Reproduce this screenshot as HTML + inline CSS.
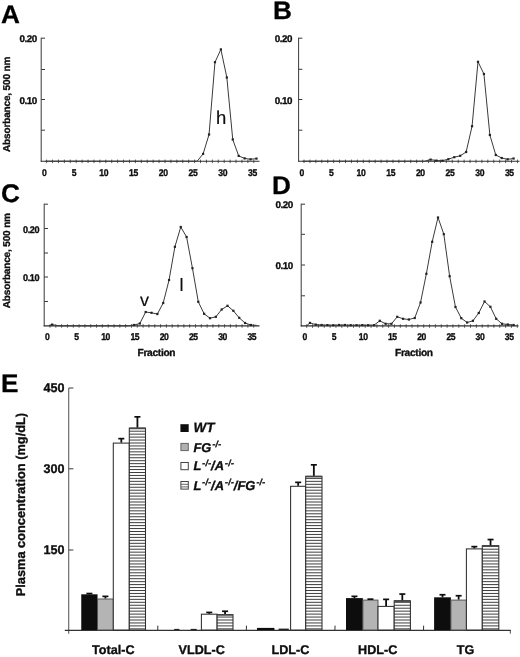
<!DOCTYPE html>
<html><head><meta charset="utf-8"><title>Figure</title>
<style>
html,body{margin:0;padding:0;background:#fff;}
svg{display:block;}
text{font-family:"Liberation Sans",sans-serif;text-rendering:geometricPrecision;}
</style></head><body>
<svg width="520" height="657" viewBox="0 0 520 657">
<defs><filter id="soft" x="0" y="0" width="520" height="657" filterUnits="userSpaceOnUse"><feGaussianBlur stdDeviation="0.35"/></filter></defs>
<rect x="0" y="0" width="520" height="657" fill="#fff"/>
<g filter="url(#soft)">
<line x1="41.20" y1="37.70" x2="41.20" y2="161.70" stroke="#3a3a3a" stroke-width="1" />
<line x1="41.20" y1="38.20" x2="45.00" y2="38.20" stroke="#3a3a3a" stroke-width="1" />
<line x1="41.20" y1="69.50" x2="45.00" y2="69.50" stroke="#3a3a3a" stroke-width="1" />
<line x1="41.20" y1="99.50" x2="45.00" y2="99.50" stroke="#3a3a3a" stroke-width="1" />
<line x1="41.20" y1="130.20" x2="45.00" y2="130.20" stroke="#3a3a3a" stroke-width="1" />
<text transform="translate(36.70,42.40) scale(1.0,1)" font-size="9.8" font-weight="bold" font-style="normal" text-anchor="end" fill="#0a0a0a" stroke="#0a0a0a" stroke-width="0.3" letter-spacing="-0.45">0.20</text>
<text transform="translate(36.70,103.50) scale(1.0,1)" font-size="9.8" font-weight="bold" font-style="normal" text-anchor="end" fill="#0a0a0a" stroke="#0a0a0a" stroke-width="0.3" letter-spacing="-0.45">0.10</text>
<line x1="40.70" y1="161.20" x2="259.50" y2="161.20" stroke="#2c2c2c" stroke-width="1.15" />
<line x1="46.60" y1="159.60" x2="46.60" y2="163.10" stroke="#333" stroke-width="0.8" />
<line x1="52.52" y1="159.60" x2="52.52" y2="163.10" stroke="#333" stroke-width="0.8" />
<line x1="58.44" y1="159.60" x2="58.44" y2="163.10" stroke="#333" stroke-width="0.8" />
<line x1="64.36" y1="159.60" x2="64.36" y2="163.10" stroke="#333" stroke-width="0.8" />
<line x1="70.28" y1="159.60" x2="70.28" y2="163.10" stroke="#333" stroke-width="0.8" />
<line x1="76.20" y1="159.60" x2="76.20" y2="163.10" stroke="#333" stroke-width="0.8" />
<line x1="82.12" y1="159.60" x2="82.12" y2="163.10" stroke="#333" stroke-width="0.8" />
<line x1="88.04" y1="159.60" x2="88.04" y2="163.10" stroke="#333" stroke-width="0.8" />
<line x1="93.96" y1="159.60" x2="93.96" y2="163.10" stroke="#333" stroke-width="0.8" />
<line x1="99.88" y1="159.60" x2="99.88" y2="163.10" stroke="#333" stroke-width="0.8" />
<line x1="105.80" y1="159.60" x2="105.80" y2="163.10" stroke="#333" stroke-width="0.8" />
<line x1="111.72" y1="159.60" x2="111.72" y2="163.10" stroke="#333" stroke-width="0.8" />
<line x1="117.64" y1="159.60" x2="117.64" y2="163.10" stroke="#333" stroke-width="0.8" />
<line x1="123.56" y1="159.60" x2="123.56" y2="163.10" stroke="#333" stroke-width="0.8" />
<line x1="129.48" y1="159.60" x2="129.48" y2="163.10" stroke="#333" stroke-width="0.8" />
<line x1="135.40" y1="159.60" x2="135.40" y2="163.10" stroke="#333" stroke-width="0.8" />
<line x1="141.32" y1="159.60" x2="141.32" y2="163.10" stroke="#333" stroke-width="0.8" />
<line x1="147.24" y1="159.60" x2="147.24" y2="163.10" stroke="#333" stroke-width="0.8" />
<line x1="153.16" y1="159.60" x2="153.16" y2="163.10" stroke="#333" stroke-width="0.8" />
<line x1="159.08" y1="159.60" x2="159.08" y2="163.10" stroke="#333" stroke-width="0.8" />
<line x1="165.00" y1="159.60" x2="165.00" y2="163.10" stroke="#333" stroke-width="0.8" />
<line x1="170.92" y1="159.60" x2="170.92" y2="163.10" stroke="#333" stroke-width="0.8" />
<line x1="176.84" y1="159.60" x2="176.84" y2="163.10" stroke="#333" stroke-width="0.8" />
<line x1="182.76" y1="159.60" x2="182.76" y2="163.10" stroke="#333" stroke-width="0.8" />
<line x1="188.68" y1="159.60" x2="188.68" y2="163.10" stroke="#333" stroke-width="0.8" />
<line x1="194.60" y1="159.60" x2="194.60" y2="163.10" stroke="#333" stroke-width="0.8" />
<line x1="200.52" y1="159.60" x2="200.52" y2="163.10" stroke="#333" stroke-width="0.8" />
<line x1="206.44" y1="159.60" x2="206.44" y2="163.10" stroke="#333" stroke-width="0.8" />
<line x1="212.36" y1="159.60" x2="212.36" y2="163.10" stroke="#333" stroke-width="0.8" />
<line x1="218.28" y1="159.60" x2="218.28" y2="163.10" stroke="#333" stroke-width="0.8" />
<line x1="224.20" y1="159.60" x2="224.20" y2="163.10" stroke="#333" stroke-width="0.8" />
<line x1="230.12" y1="159.60" x2="230.12" y2="163.10" stroke="#333" stroke-width="0.8" />
<line x1="236.04" y1="159.60" x2="236.04" y2="163.10" stroke="#333" stroke-width="0.8" />
<line x1="241.96" y1="159.60" x2="241.96" y2="163.10" stroke="#333" stroke-width="0.8" />
<line x1="247.88" y1="159.60" x2="247.88" y2="163.10" stroke="#333" stroke-width="0.8" />
<line x1="253.80" y1="159.60" x2="253.80" y2="163.10" stroke="#333" stroke-width="0.8" />
<text transform="translate(44.20,175.70) scale(0.88,1)" font-size="9.8" font-weight="bold" font-style="normal" text-anchor="middle" fill="#0a0a0a" stroke="#0a0a0a" stroke-width="0.3" letter-spacing="-0.45">0</text>
<text transform="translate(73.95,175.70) scale(0.88,1)" font-size="9.8" font-weight="bold" font-style="normal" text-anchor="middle" fill="#0a0a0a" stroke="#0a0a0a" stroke-width="0.3" letter-spacing="-0.45">5</text>
<text transform="translate(103.70,175.70) scale(0.88,1)" font-size="9.8" font-weight="bold" font-style="normal" text-anchor="middle" fill="#0a0a0a" stroke="#0a0a0a" stroke-width="0.3" letter-spacing="-0.45">10</text>
<text transform="translate(133.45,175.70) scale(0.88,1)" font-size="9.8" font-weight="bold" font-style="normal" text-anchor="middle" fill="#0a0a0a" stroke="#0a0a0a" stroke-width="0.3" letter-spacing="-0.45">15</text>
<text transform="translate(163.20,175.70) scale(0.88,1)" font-size="9.8" font-weight="bold" font-style="normal" text-anchor="middle" fill="#0a0a0a" stroke="#0a0a0a" stroke-width="0.3" letter-spacing="-0.45">20</text>
<text transform="translate(192.95,175.70) scale(0.88,1)" font-size="9.8" font-weight="bold" font-style="normal" text-anchor="middle" fill="#0a0a0a" stroke="#0a0a0a" stroke-width="0.3" letter-spacing="-0.45">25</text>
<text transform="translate(222.70,175.70) scale(0.88,1)" font-size="9.8" font-weight="bold" font-style="normal" text-anchor="middle" fill="#0a0a0a" stroke="#0a0a0a" stroke-width="0.3" letter-spacing="-0.45">30</text>
<text transform="translate(252.45,175.70) scale(0.88,1)" font-size="9.8" font-weight="bold" font-style="normal" text-anchor="middle" fill="#0a0a0a" stroke="#0a0a0a" stroke-width="0.3" letter-spacing="-0.45">35</text>
<polyline fill="none" stroke="#3a3a3a" stroke-width="1" stroke-linejoin="round" points="45.37,161.20 48.93,161.20 54.86,161.20 60.79,161.20 66.72,161.20 72.65,161.20 78.58,161.20 84.51,161.20 90.44,161.20 96.37,161.20 102.30,161.20 108.23,161.20 114.16,161.20 120.09,161.20 126.02,161.20 131.95,161.20 137.88,161.20 143.81,161.20 149.74,161.20 155.67,161.20 161.60,161.20 167.53,161.20 173.46,161.20 179.39,161.20 185.32,161.20 191.25,161.20 197.18,161.20 203.11,153.90 209.04,134.50 214.97,62.20 220.90,49.40 226.83,77.50 232.76,139.50 238.69,155.90 244.62,158.40 250.55,159.30 256.48,158.60"/>
<rect x="202.01" y="152.80" width="2.2" height="2.2" fill="#222"/>
<rect x="207.94" y="133.40" width="2.2" height="2.2" fill="#222"/>
<rect x="213.87" y="61.10" width="2.2" height="2.2" fill="#222"/>
<rect x="219.80" y="48.30" width="2.2" height="2.2" fill="#222"/>
<rect x="225.73" y="76.40" width="2.2" height="2.2" fill="#222"/>
<rect x="231.66" y="138.40" width="2.2" height="2.2" fill="#222"/>
<rect x="237.59" y="154.80" width="2.2" height="2.2" fill="#222"/>
<rect x="243.52" y="157.30" width="2.2" height="2.2" fill="#222"/>
<rect x="249.45" y="158.20" width="2.2" height="2.2" fill="#222"/>
<rect x="255.38" y="157.50" width="2.2" height="2.2" fill="#222"/>
<line x1="298.60" y1="37.70" x2="298.60" y2="161.70" stroke="#3a3a3a" stroke-width="1" />
<line x1="298.60" y1="38.20" x2="302.40" y2="38.20" stroke="#3a3a3a" stroke-width="1" />
<line x1="298.60" y1="69.30" x2="302.40" y2="69.30" stroke="#3a3a3a" stroke-width="1" />
<line x1="298.60" y1="99.50" x2="302.40" y2="99.50" stroke="#3a3a3a" stroke-width="1" />
<line x1="298.60" y1="130.20" x2="302.40" y2="130.20" stroke="#3a3a3a" stroke-width="1" />
<text transform="translate(292.10,42.40) scale(1.0,1)" font-size="9.8" font-weight="bold" font-style="normal" text-anchor="end" fill="#0a0a0a" stroke="#0a0a0a" stroke-width="0.3" letter-spacing="-0.45">0.20</text>
<text transform="translate(292.10,103.70) scale(1.0,1)" font-size="9.8" font-weight="bold" font-style="normal" text-anchor="end" fill="#0a0a0a" stroke="#0a0a0a" stroke-width="0.3" letter-spacing="-0.45">0.10</text>
<line x1="298.10" y1="161.20" x2="519.50" y2="161.20" stroke="#2c2c2c" stroke-width="1.15" />
<line x1="304.00" y1="159.60" x2="304.00" y2="163.10" stroke="#333" stroke-width="0.8" />
<line x1="309.93" y1="159.60" x2="309.93" y2="163.10" stroke="#333" stroke-width="0.8" />
<line x1="315.86" y1="159.60" x2="315.86" y2="163.10" stroke="#333" stroke-width="0.8" />
<line x1="321.79" y1="159.60" x2="321.79" y2="163.10" stroke="#333" stroke-width="0.8" />
<line x1="327.72" y1="159.60" x2="327.72" y2="163.10" stroke="#333" stroke-width="0.8" />
<line x1="333.65" y1="159.60" x2="333.65" y2="163.10" stroke="#333" stroke-width="0.8" />
<line x1="339.58" y1="159.60" x2="339.58" y2="163.10" stroke="#333" stroke-width="0.8" />
<line x1="345.51" y1="159.60" x2="345.51" y2="163.10" stroke="#333" stroke-width="0.8" />
<line x1="351.44" y1="159.60" x2="351.44" y2="163.10" stroke="#333" stroke-width="0.8" />
<line x1="357.37" y1="159.60" x2="357.37" y2="163.10" stroke="#333" stroke-width="0.8" />
<line x1="363.30" y1="159.60" x2="363.30" y2="163.10" stroke="#333" stroke-width="0.8" />
<line x1="369.23" y1="159.60" x2="369.23" y2="163.10" stroke="#333" stroke-width="0.8" />
<line x1="375.16" y1="159.60" x2="375.16" y2="163.10" stroke="#333" stroke-width="0.8" />
<line x1="381.09" y1="159.60" x2="381.09" y2="163.10" stroke="#333" stroke-width="0.8" />
<line x1="387.02" y1="159.60" x2="387.02" y2="163.10" stroke="#333" stroke-width="0.8" />
<line x1="392.95" y1="159.60" x2="392.95" y2="163.10" stroke="#333" stroke-width="0.8" />
<line x1="398.88" y1="159.60" x2="398.88" y2="163.10" stroke="#333" stroke-width="0.8" />
<line x1="404.81" y1="159.60" x2="404.81" y2="163.10" stroke="#333" stroke-width="0.8" />
<line x1="410.74" y1="159.60" x2="410.74" y2="163.10" stroke="#333" stroke-width="0.8" />
<line x1="416.67" y1="159.60" x2="416.67" y2="163.10" stroke="#333" stroke-width="0.8" />
<line x1="422.60" y1="159.60" x2="422.60" y2="163.10" stroke="#333" stroke-width="0.8" />
<line x1="428.53" y1="159.60" x2="428.53" y2="163.10" stroke="#333" stroke-width="0.8" />
<line x1="434.46" y1="159.60" x2="434.46" y2="163.10" stroke="#333" stroke-width="0.8" />
<line x1="440.39" y1="159.60" x2="440.39" y2="163.10" stroke="#333" stroke-width="0.8" />
<line x1="446.32" y1="159.60" x2="446.32" y2="163.10" stroke="#333" stroke-width="0.8" />
<line x1="452.25" y1="159.60" x2="452.25" y2="163.10" stroke="#333" stroke-width="0.8" />
<line x1="458.18" y1="159.60" x2="458.18" y2="163.10" stroke="#333" stroke-width="0.8" />
<line x1="464.11" y1="159.60" x2="464.11" y2="163.10" stroke="#333" stroke-width="0.8" />
<line x1="470.04" y1="159.60" x2="470.04" y2="163.10" stroke="#333" stroke-width="0.8" />
<line x1="475.97" y1="159.60" x2="475.97" y2="163.10" stroke="#333" stroke-width="0.8" />
<line x1="481.90" y1="159.60" x2="481.90" y2="163.10" stroke="#333" stroke-width="0.8" />
<line x1="487.83" y1="159.60" x2="487.83" y2="163.10" stroke="#333" stroke-width="0.8" />
<line x1="493.76" y1="159.60" x2="493.76" y2="163.10" stroke="#333" stroke-width="0.8" />
<line x1="499.69" y1="159.60" x2="499.69" y2="163.10" stroke="#333" stroke-width="0.8" />
<line x1="505.62" y1="159.60" x2="505.62" y2="163.10" stroke="#333" stroke-width="0.8" />
<line x1="511.55" y1="159.60" x2="511.55" y2="163.10" stroke="#333" stroke-width="0.8" />
<line x1="517.48" y1="159.60" x2="517.48" y2="163.10" stroke="#333" stroke-width="0.8" />
<text transform="translate(301.60,175.80) scale(0.88,1)" font-size="9.8" font-weight="bold" font-style="normal" text-anchor="middle" fill="#0a0a0a" stroke="#0a0a0a" stroke-width="0.3" letter-spacing="-0.45">0</text>
<text transform="translate(331.28,175.80) scale(0.88,1)" font-size="9.8" font-weight="bold" font-style="normal" text-anchor="middle" fill="#0a0a0a" stroke="#0a0a0a" stroke-width="0.3" letter-spacing="-0.45">5</text>
<text transform="translate(360.96,175.80) scale(0.88,1)" font-size="9.8" font-weight="bold" font-style="normal" text-anchor="middle" fill="#0a0a0a" stroke="#0a0a0a" stroke-width="0.3" letter-spacing="-0.45">10</text>
<text transform="translate(390.64,175.80) scale(0.88,1)" font-size="9.8" font-weight="bold" font-style="normal" text-anchor="middle" fill="#0a0a0a" stroke="#0a0a0a" stroke-width="0.3" letter-spacing="-0.45">15</text>
<text transform="translate(420.32,175.80) scale(0.88,1)" font-size="9.8" font-weight="bold" font-style="normal" text-anchor="middle" fill="#0a0a0a" stroke="#0a0a0a" stroke-width="0.3" letter-spacing="-0.45">20</text>
<text transform="translate(450.00,175.80) scale(0.88,1)" font-size="9.8" font-weight="bold" font-style="normal" text-anchor="middle" fill="#0a0a0a" stroke="#0a0a0a" stroke-width="0.3" letter-spacing="-0.45">25</text>
<text transform="translate(479.68,175.80) scale(0.88,1)" font-size="9.8" font-weight="bold" font-style="normal" text-anchor="middle" fill="#0a0a0a" stroke="#0a0a0a" stroke-width="0.3" letter-spacing="-0.45">30</text>
<text transform="translate(509.36,175.80) scale(0.88,1)" font-size="9.8" font-weight="bold" font-style="normal" text-anchor="middle" fill="#0a0a0a" stroke="#0a0a0a" stroke-width="0.3" letter-spacing="-0.45">35</text>
<polyline fill="none" stroke="#3a3a3a" stroke-width="1" stroke-linejoin="round" points="302.47,161.20 306.03,161.20 311.96,161.20 317.89,161.20 323.82,161.20 329.75,161.20 335.68,161.20 341.61,161.20 347.54,161.20 353.47,161.20 359.40,161.20 365.33,161.20 371.26,161.20 377.19,161.20 383.12,161.20 389.05,161.20 394.98,161.20 400.91,161.20 406.84,161.20 412.77,161.20 418.70,161.20 424.63,161.20 430.56,159.60 436.49,160.60 442.42,160.70 448.35,159.20 454.28,157.20 460.21,155.80 466.14,152.00 472.07,126.20 478.00,61.80 483.93,74.00 489.86,135.00 495.79,155.00 501.72,158.00 507.65,159.30 513.58,158.50"/>
<rect x="429.46" y="158.50" width="2.2" height="2.2" fill="#222"/>
<rect x="435.39" y="159.50" width="2.2" height="2.2" fill="#222"/>
<rect x="441.32" y="159.60" width="2.2" height="2.2" fill="#222"/>
<rect x="447.25" y="158.10" width="2.2" height="2.2" fill="#222"/>
<rect x="453.18" y="156.10" width="2.2" height="2.2" fill="#222"/>
<rect x="459.11" y="154.70" width="2.2" height="2.2" fill="#222"/>
<rect x="465.04" y="150.90" width="2.2" height="2.2" fill="#222"/>
<rect x="470.97" y="125.10" width="2.2" height="2.2" fill="#222"/>
<rect x="476.90" y="60.70" width="2.2" height="2.2" fill="#222"/>
<rect x="482.83" y="72.90" width="2.2" height="2.2" fill="#222"/>
<rect x="488.76" y="133.90" width="2.2" height="2.2" fill="#222"/>
<rect x="494.69" y="153.90" width="2.2" height="2.2" fill="#222"/>
<rect x="500.62" y="156.90" width="2.2" height="2.2" fill="#222"/>
<rect x="506.55" y="158.20" width="2.2" height="2.2" fill="#222"/>
<rect x="512.48" y="157.40" width="2.2" height="2.2" fill="#222"/>
<line x1="44.20" y1="203.70" x2="44.20" y2="326.30" stroke="#3a3a3a" stroke-width="1" />
<line x1="44.20" y1="204.20" x2="48.00" y2="204.20" stroke="#3a3a3a" stroke-width="1" />
<line x1="44.20" y1="228.50" x2="48.00" y2="228.50" stroke="#3a3a3a" stroke-width="1" />
<line x1="44.20" y1="253.00" x2="48.00" y2="253.00" stroke="#3a3a3a" stroke-width="1" />
<line x1="44.20" y1="277.00" x2="48.00" y2="277.00" stroke="#3a3a3a" stroke-width="1" />
<line x1="44.20" y1="301.50" x2="48.00" y2="301.50" stroke="#3a3a3a" stroke-width="1" />
<text transform="translate(39.10,232.90) scale(0.93,1)" font-size="9.8" font-weight="bold" font-style="normal" text-anchor="end" fill="#0a0a0a" stroke="#0a0a0a" stroke-width="0.3" letter-spacing="-0.45">0.20</text>
<text transform="translate(39.10,281.30) scale(0.93,1)" font-size="9.8" font-weight="bold" font-style="normal" text-anchor="end" fill="#0a0a0a" stroke="#0a0a0a" stroke-width="0.3" letter-spacing="-0.45">0.10</text>
<line x1="43.70" y1="325.80" x2="259.50" y2="325.80" stroke="#2c2c2c" stroke-width="1.15" />
<line x1="50.00" y1="324.20" x2="50.00" y2="327.70" stroke="#333" stroke-width="0.8" />
<line x1="55.82" y1="324.20" x2="55.82" y2="327.70" stroke="#333" stroke-width="0.8" />
<line x1="61.64" y1="324.20" x2="61.64" y2="327.70" stroke="#333" stroke-width="0.8" />
<line x1="67.46" y1="324.20" x2="67.46" y2="327.70" stroke="#333" stroke-width="0.8" />
<line x1="73.28" y1="324.20" x2="73.28" y2="327.70" stroke="#333" stroke-width="0.8" />
<line x1="79.10" y1="324.20" x2="79.10" y2="327.70" stroke="#333" stroke-width="0.8" />
<line x1="84.92" y1="324.20" x2="84.92" y2="327.70" stroke="#333" stroke-width="0.8" />
<line x1="90.74" y1="324.20" x2="90.74" y2="327.70" stroke="#333" stroke-width="0.8" />
<line x1="96.56" y1="324.20" x2="96.56" y2="327.70" stroke="#333" stroke-width="0.8" />
<line x1="102.38" y1="324.20" x2="102.38" y2="327.70" stroke="#333" stroke-width="0.8" />
<line x1="108.20" y1="324.20" x2="108.20" y2="327.70" stroke="#333" stroke-width="0.8" />
<line x1="114.02" y1="324.20" x2="114.02" y2="327.70" stroke="#333" stroke-width="0.8" />
<line x1="119.84" y1="324.20" x2="119.84" y2="327.70" stroke="#333" stroke-width="0.8" />
<line x1="125.66" y1="324.20" x2="125.66" y2="327.70" stroke="#333" stroke-width="0.8" />
<line x1="131.48" y1="324.20" x2="131.48" y2="327.70" stroke="#333" stroke-width="0.8" />
<line x1="137.30" y1="324.20" x2="137.30" y2="327.70" stroke="#333" stroke-width="0.8" />
<line x1="143.12" y1="324.20" x2="143.12" y2="327.70" stroke="#333" stroke-width="0.8" />
<line x1="148.94" y1="324.20" x2="148.94" y2="327.70" stroke="#333" stroke-width="0.8" />
<line x1="154.76" y1="324.20" x2="154.76" y2="327.70" stroke="#333" stroke-width="0.8" />
<line x1="160.58" y1="324.20" x2="160.58" y2="327.70" stroke="#333" stroke-width="0.8" />
<line x1="166.40" y1="324.20" x2="166.40" y2="327.70" stroke="#333" stroke-width="0.8" />
<line x1="172.22" y1="324.20" x2="172.22" y2="327.70" stroke="#333" stroke-width="0.8" />
<line x1="178.04" y1="324.20" x2="178.04" y2="327.70" stroke="#333" stroke-width="0.8" />
<line x1="183.86" y1="324.20" x2="183.86" y2="327.70" stroke="#333" stroke-width="0.8" />
<line x1="189.68" y1="324.20" x2="189.68" y2="327.70" stroke="#333" stroke-width="0.8" />
<line x1="195.50" y1="324.20" x2="195.50" y2="327.70" stroke="#333" stroke-width="0.8" />
<line x1="201.32" y1="324.20" x2="201.32" y2="327.70" stroke="#333" stroke-width="0.8" />
<line x1="207.14" y1="324.20" x2="207.14" y2="327.70" stroke="#333" stroke-width="0.8" />
<line x1="212.96" y1="324.20" x2="212.96" y2="327.70" stroke="#333" stroke-width="0.8" />
<line x1="218.78" y1="324.20" x2="218.78" y2="327.70" stroke="#333" stroke-width="0.8" />
<line x1="224.60" y1="324.20" x2="224.60" y2="327.70" stroke="#333" stroke-width="0.8" />
<line x1="230.42" y1="324.20" x2="230.42" y2="327.70" stroke="#333" stroke-width="0.8" />
<line x1="236.24" y1="324.20" x2="236.24" y2="327.70" stroke="#333" stroke-width="0.8" />
<line x1="242.06" y1="324.20" x2="242.06" y2="327.70" stroke="#333" stroke-width="0.8" />
<line x1="247.88" y1="324.20" x2="247.88" y2="327.70" stroke="#333" stroke-width="0.8" />
<line x1="253.70" y1="324.20" x2="253.70" y2="327.70" stroke="#333" stroke-width="0.8" />
<text transform="translate(47.10,339.70) scale(0.88,1)" font-size="9.8" font-weight="bold" font-style="normal" text-anchor="middle" fill="#0a0a0a" stroke="#0a0a0a" stroke-width="0.3" letter-spacing="-0.45">0</text>
<text transform="translate(76.35,339.70) scale(0.88,1)" font-size="9.8" font-weight="bold" font-style="normal" text-anchor="middle" fill="#0a0a0a" stroke="#0a0a0a" stroke-width="0.3" letter-spacing="-0.45">5</text>
<text transform="translate(105.60,339.70) scale(0.88,1)" font-size="9.8" font-weight="bold" font-style="normal" text-anchor="middle" fill="#0a0a0a" stroke="#0a0a0a" stroke-width="0.3" letter-spacing="-0.45">10</text>
<text transform="translate(134.85,339.70) scale(0.88,1)" font-size="9.8" font-weight="bold" font-style="normal" text-anchor="middle" fill="#0a0a0a" stroke="#0a0a0a" stroke-width="0.3" letter-spacing="-0.45">15</text>
<text transform="translate(164.10,339.70) scale(0.88,1)" font-size="9.8" font-weight="bold" font-style="normal" text-anchor="middle" fill="#0a0a0a" stroke="#0a0a0a" stroke-width="0.3" letter-spacing="-0.45">20</text>
<text transform="translate(193.35,339.70) scale(0.88,1)" font-size="9.8" font-weight="bold" font-style="normal" text-anchor="middle" fill="#0a0a0a" stroke="#0a0a0a" stroke-width="0.3" letter-spacing="-0.45">25</text>
<text transform="translate(222.60,339.70) scale(0.88,1)" font-size="9.8" font-weight="bold" font-style="normal" text-anchor="middle" fill="#0a0a0a" stroke="#0a0a0a" stroke-width="0.3" letter-spacing="-0.45">30</text>
<text transform="translate(251.85,339.70) scale(0.88,1)" font-size="9.8" font-weight="bold" font-style="normal" text-anchor="middle" fill="#0a0a0a" stroke="#0a0a0a" stroke-width="0.3" letter-spacing="-0.45">35</text>
<polyline fill="none" stroke="#3a3a3a" stroke-width="1" stroke-linejoin="round" points="48.63,325.80 52.14,324.60 57.98,325.80 63.83,325.80 69.68,325.80 75.52,325.80 81.37,325.80 87.21,325.80 93.06,325.80 98.91,325.80 104.75,325.80 110.60,325.80 116.44,325.80 122.29,325.80 128.14,325.80 133.98,325.00 139.83,323.50 145.67,312.00 151.52,312.80 157.37,314.00 163.21,303.00 169.06,280.00 174.90,246.80 180.75,227.00 186.60,237.00 192.44,268.20 198.29,301.80 204.13,313.80 209.98,318.20 215.83,316.80 221.67,309.50 227.52,305.80 233.36,310.80 239.21,317.80 245.06,323.00 250.90,325.00 256.75,325.40"/>
<rect x="51.04" y="323.50" width="2.2" height="2.2" fill="#222"/>
<rect x="132.88" y="323.90" width="2.2" height="2.2" fill="#222"/>
<rect x="138.73" y="322.40" width="2.2" height="2.2" fill="#222"/>
<rect x="144.57" y="310.90" width="2.2" height="2.2" fill="#222"/>
<rect x="150.42" y="311.70" width="2.2" height="2.2" fill="#222"/>
<rect x="156.27" y="312.90" width="2.2" height="2.2" fill="#222"/>
<rect x="162.11" y="301.90" width="2.2" height="2.2" fill="#222"/>
<rect x="167.96" y="278.90" width="2.2" height="2.2" fill="#222"/>
<rect x="173.80" y="245.70" width="2.2" height="2.2" fill="#222"/>
<rect x="179.65" y="225.90" width="2.2" height="2.2" fill="#222"/>
<rect x="185.50" y="235.90" width="2.2" height="2.2" fill="#222"/>
<rect x="191.34" y="267.10" width="2.2" height="2.2" fill="#222"/>
<rect x="197.19" y="300.70" width="2.2" height="2.2" fill="#222"/>
<rect x="203.03" y="312.70" width="2.2" height="2.2" fill="#222"/>
<rect x="208.88" y="317.10" width="2.2" height="2.2" fill="#222"/>
<rect x="214.73" y="315.70" width="2.2" height="2.2" fill="#222"/>
<rect x="220.57" y="308.40" width="2.2" height="2.2" fill="#222"/>
<rect x="226.42" y="304.70" width="2.2" height="2.2" fill="#222"/>
<rect x="232.26" y="309.70" width="2.2" height="2.2" fill="#222"/>
<rect x="238.11" y="316.70" width="2.2" height="2.2" fill="#222"/>
<rect x="243.96" y="321.90" width="2.2" height="2.2" fill="#222"/>
<rect x="249.80" y="323.90" width="2.2" height="2.2" fill="#222"/>
<line x1="301.20" y1="203.70" x2="301.20" y2="326.40" stroke="#3a3a3a" stroke-width="1" />
<line x1="301.20" y1="204.20" x2="305.00" y2="204.20" stroke="#3a3a3a" stroke-width="1" />
<line x1="301.20" y1="234.30" x2="305.00" y2="234.30" stroke="#3a3a3a" stroke-width="1" />
<line x1="301.20" y1="265.00" x2="305.00" y2="265.00" stroke="#3a3a3a" stroke-width="1" />
<line x1="301.20" y1="295.80" x2="305.00" y2="295.80" stroke="#3a3a3a" stroke-width="1" />
<text transform="translate(292.80,208.10) scale(1.0,1)" font-size="9.8" font-weight="bold" font-style="normal" text-anchor="end" fill="#0a0a0a" stroke="#0a0a0a" stroke-width="0.3" letter-spacing="-0.45">0.20</text>
<text transform="translate(292.80,268.60) scale(1.0,1)" font-size="9.8" font-weight="bold" font-style="normal" text-anchor="end" fill="#0a0a0a" stroke="#0a0a0a" stroke-width="0.3" letter-spacing="-0.45">0.10</text>
<line x1="300.70" y1="325.90" x2="518.50" y2="325.90" stroke="#2c2c2c" stroke-width="1.15" />
<line x1="306.70" y1="324.30" x2="306.70" y2="327.80" stroke="#333" stroke-width="0.8" />
<line x1="312.55" y1="324.30" x2="312.55" y2="327.80" stroke="#333" stroke-width="0.8" />
<line x1="318.40" y1="324.30" x2="318.40" y2="327.80" stroke="#333" stroke-width="0.8" />
<line x1="324.25" y1="324.30" x2="324.25" y2="327.80" stroke="#333" stroke-width="0.8" />
<line x1="330.10" y1="324.30" x2="330.10" y2="327.80" stroke="#333" stroke-width="0.8" />
<line x1="335.95" y1="324.30" x2="335.95" y2="327.80" stroke="#333" stroke-width="0.8" />
<line x1="341.80" y1="324.30" x2="341.80" y2="327.80" stroke="#333" stroke-width="0.8" />
<line x1="347.65" y1="324.30" x2="347.65" y2="327.80" stroke="#333" stroke-width="0.8" />
<line x1="353.50" y1="324.30" x2="353.50" y2="327.80" stroke="#333" stroke-width="0.8" />
<line x1="359.35" y1="324.30" x2="359.35" y2="327.80" stroke="#333" stroke-width="0.8" />
<line x1="365.20" y1="324.30" x2="365.20" y2="327.80" stroke="#333" stroke-width="0.8" />
<line x1="371.05" y1="324.30" x2="371.05" y2="327.80" stroke="#333" stroke-width="0.8" />
<line x1="376.90" y1="324.30" x2="376.90" y2="327.80" stroke="#333" stroke-width="0.8" />
<line x1="382.75" y1="324.30" x2="382.75" y2="327.80" stroke="#333" stroke-width="0.8" />
<line x1="388.60" y1="324.30" x2="388.60" y2="327.80" stroke="#333" stroke-width="0.8" />
<line x1="394.45" y1="324.30" x2="394.45" y2="327.80" stroke="#333" stroke-width="0.8" />
<line x1="400.30" y1="324.30" x2="400.30" y2="327.80" stroke="#333" stroke-width="0.8" />
<line x1="406.15" y1="324.30" x2="406.15" y2="327.80" stroke="#333" stroke-width="0.8" />
<line x1="412.00" y1="324.30" x2="412.00" y2="327.80" stroke="#333" stroke-width="0.8" />
<line x1="417.85" y1="324.30" x2="417.85" y2="327.80" stroke="#333" stroke-width="0.8" />
<line x1="423.70" y1="324.30" x2="423.70" y2="327.80" stroke="#333" stroke-width="0.8" />
<line x1="429.55" y1="324.30" x2="429.55" y2="327.80" stroke="#333" stroke-width="0.8" />
<line x1="435.40" y1="324.30" x2="435.40" y2="327.80" stroke="#333" stroke-width="0.8" />
<line x1="441.25" y1="324.30" x2="441.25" y2="327.80" stroke="#333" stroke-width="0.8" />
<line x1="447.10" y1="324.30" x2="447.10" y2="327.80" stroke="#333" stroke-width="0.8" />
<line x1="452.95" y1="324.30" x2="452.95" y2="327.80" stroke="#333" stroke-width="0.8" />
<line x1="458.80" y1="324.30" x2="458.80" y2="327.80" stroke="#333" stroke-width="0.8" />
<line x1="464.65" y1="324.30" x2="464.65" y2="327.80" stroke="#333" stroke-width="0.8" />
<line x1="470.50" y1="324.30" x2="470.50" y2="327.80" stroke="#333" stroke-width="0.8" />
<line x1="476.35" y1="324.30" x2="476.35" y2="327.80" stroke="#333" stroke-width="0.8" />
<line x1="482.20" y1="324.30" x2="482.20" y2="327.80" stroke="#333" stroke-width="0.8" />
<line x1="488.05" y1="324.30" x2="488.05" y2="327.80" stroke="#333" stroke-width="0.8" />
<line x1="493.90" y1="324.30" x2="493.90" y2="327.80" stroke="#333" stroke-width="0.8" />
<line x1="499.75" y1="324.30" x2="499.75" y2="327.80" stroke="#333" stroke-width="0.8" />
<line x1="505.60" y1="324.30" x2="505.60" y2="327.80" stroke="#333" stroke-width="0.8" />
<line x1="511.45" y1="324.30" x2="511.45" y2="327.80" stroke="#333" stroke-width="0.8" />
<line x1="517.30" y1="324.30" x2="517.30" y2="327.80" stroke="#333" stroke-width="0.8" />
<text transform="translate(304.70,339.80) scale(0.88,1)" font-size="9.8" font-weight="bold" font-style="normal" text-anchor="middle" fill="#0a0a0a" stroke="#0a0a0a" stroke-width="0.3" letter-spacing="-0.45">0</text>
<text transform="translate(333.92,339.80) scale(0.88,1)" font-size="9.8" font-weight="bold" font-style="normal" text-anchor="middle" fill="#0a0a0a" stroke="#0a0a0a" stroke-width="0.3" letter-spacing="-0.45">5</text>
<text transform="translate(363.14,339.80) scale(0.88,1)" font-size="9.8" font-weight="bold" font-style="normal" text-anchor="middle" fill="#0a0a0a" stroke="#0a0a0a" stroke-width="0.3" letter-spacing="-0.45">10</text>
<text transform="translate(392.36,339.80) scale(0.88,1)" font-size="9.8" font-weight="bold" font-style="normal" text-anchor="middle" fill="#0a0a0a" stroke="#0a0a0a" stroke-width="0.3" letter-spacing="-0.45">15</text>
<text transform="translate(421.58,339.80) scale(0.88,1)" font-size="9.8" font-weight="bold" font-style="normal" text-anchor="middle" fill="#0a0a0a" stroke="#0a0a0a" stroke-width="0.3" letter-spacing="-0.45">20</text>
<text transform="translate(450.80,339.80) scale(0.88,1)" font-size="9.8" font-weight="bold" font-style="normal" text-anchor="middle" fill="#0a0a0a" stroke="#0a0a0a" stroke-width="0.3" letter-spacing="-0.45">25</text>
<text transform="translate(480.02,339.80) scale(0.88,1)" font-size="9.8" font-weight="bold" font-style="normal" text-anchor="middle" fill="#0a0a0a" stroke="#0a0a0a" stroke-width="0.3" letter-spacing="-0.45">30</text>
<text transform="translate(509.24,339.80) scale(0.88,1)" font-size="9.8" font-weight="bold" font-style="normal" text-anchor="middle" fill="#0a0a0a" stroke="#0a0a0a" stroke-width="0.3" letter-spacing="-0.45">35</text>
<polyline fill="none" stroke="#3a3a3a" stroke-width="1" stroke-linejoin="round" points="306.47,325.90 309.96,322.90 315.78,324.60 321.60,325.00 327.42,325.10 333.24,325.20 339.06,325.00 344.88,325.00 350.70,325.20 356.52,325.20 362.34,325.10 368.16,325.20 373.98,325.20 379.80,320.80 385.62,323.80 391.44,323.80 397.26,316.80 403.08,318.80 408.90,319.50 414.72,318.00 420.54,302.50 426.36,273.80 432.18,241.80 438.00,217.50 443.82,234.20 449.64,276.20 455.46,307.00 461.28,318.20 467.10,322.50 472.92,320.80 478.74,313.00 484.56,301.50 490.38,306.80 496.20,318.80 502.02,323.80 507.84,324.50 513.66,325.00"/>
<rect x="308.86" y="321.80" width="2.2" height="2.2" fill="#222"/>
<rect x="314.68" y="323.50" width="2.2" height="2.2" fill="#222"/>
<rect x="320.50" y="323.90" width="2.2" height="2.2" fill="#222"/>
<rect x="326.32" y="324.00" width="2.2" height="2.2" fill="#222"/>
<rect x="332.14" y="324.10" width="2.2" height="2.2" fill="#222"/>
<rect x="337.96" y="323.90" width="2.2" height="2.2" fill="#222"/>
<rect x="343.78" y="323.90" width="2.2" height="2.2" fill="#222"/>
<rect x="349.60" y="324.10" width="2.2" height="2.2" fill="#222"/>
<rect x="355.42" y="324.10" width="2.2" height="2.2" fill="#222"/>
<rect x="361.24" y="324.00" width="2.2" height="2.2" fill="#222"/>
<rect x="367.06" y="324.10" width="2.2" height="2.2" fill="#222"/>
<rect x="372.88" y="324.10" width="2.2" height="2.2" fill="#222"/>
<rect x="378.70" y="319.70" width="2.2" height="2.2" fill="#222"/>
<rect x="384.52" y="322.70" width="2.2" height="2.2" fill="#222"/>
<rect x="390.34" y="322.70" width="2.2" height="2.2" fill="#222"/>
<rect x="396.16" y="315.70" width="2.2" height="2.2" fill="#222"/>
<rect x="401.98" y="317.70" width="2.2" height="2.2" fill="#222"/>
<rect x="407.80" y="318.40" width="2.2" height="2.2" fill="#222"/>
<rect x="413.62" y="316.90" width="2.2" height="2.2" fill="#222"/>
<rect x="419.44" y="301.40" width="2.2" height="2.2" fill="#222"/>
<rect x="425.26" y="272.70" width="2.2" height="2.2" fill="#222"/>
<rect x="431.08" y="240.70" width="2.2" height="2.2" fill="#222"/>
<rect x="436.90" y="216.40" width="2.2" height="2.2" fill="#222"/>
<rect x="442.72" y="233.10" width="2.2" height="2.2" fill="#222"/>
<rect x="448.54" y="275.10" width="2.2" height="2.2" fill="#222"/>
<rect x="454.36" y="305.90" width="2.2" height="2.2" fill="#222"/>
<rect x="460.18" y="317.10" width="2.2" height="2.2" fill="#222"/>
<rect x="466.00" y="321.40" width="2.2" height="2.2" fill="#222"/>
<rect x="471.82" y="319.70" width="2.2" height="2.2" fill="#222"/>
<rect x="477.64" y="311.90" width="2.2" height="2.2" fill="#222"/>
<rect x="483.46" y="300.40" width="2.2" height="2.2" fill="#222"/>
<rect x="489.28" y="305.70" width="2.2" height="2.2" fill="#222"/>
<rect x="495.10" y="317.70" width="2.2" height="2.2" fill="#222"/>
<rect x="500.92" y="322.70" width="2.2" height="2.2" fill="#222"/>
<rect x="506.74" y="323.40" width="2.2" height="2.2" fill="#222"/>
<rect x="512.56" y="323.90" width="2.2" height="2.2" fill="#222"/>
<text transform="translate(0.90,22.60) scale(1.03,1)" font-size="25.4" font-weight="bold" fill="#000" stroke="#000" stroke-width="0.3">A</text>
<text transform="translate(273.10,19.40) scale(1.03,1)" font-size="25.4" font-weight="bold" fill="#000" stroke="#000" stroke-width="0.3">B</text>
<text transform="translate(0.90,201.60) scale(1.03,1)" font-size="25.4" font-weight="bold" fill="#000" stroke="#000" stroke-width="0.3">C</text>
<text transform="translate(272.10,193.80) scale(1.03,1)" font-size="25.4" font-weight="bold" fill="#000" stroke="#000" stroke-width="0.3">D</text>
<text transform="translate(1.00,391.60) scale(1.03,1)" font-size="25.4" font-weight="bold" fill="#000" stroke="#000" stroke-width="0.3">E</text>
<text transform="translate(216.00,123.80) scale(1,1)" font-size="18.5" font-weight="normal" font-style="normal" text-anchor="start" fill="#0a0a0a" stroke="#0a0a0a" stroke-width="0.15" >h</text>
<text transform="translate(140.00,306.00) scale(1,1)" font-size="18" font-weight="normal" font-style="normal" text-anchor="start" fill="#0a0a0a" stroke="#0a0a0a" stroke-width="0.15" >v</text>
<text transform="translate(179.60,290.60) scale(1,1)" font-size="18" font-weight="normal" font-style="normal" text-anchor="start" fill="#0a0a0a" stroke="#0a0a0a" stroke-width="0.15" >l</text>
<text transform="translate(9.90,104.40) rotate(-90)" font-size="10.0" font-weight="bold" text-anchor="middle" letter-spacing="-0.15" fill="#0a0a0a" stroke="#0a0a0a" stroke-width="0.3">Absorbance, 500 nm</text>
<text transform="translate(9.90,260.70) rotate(-90)" font-size="10.0" font-weight="bold" text-anchor="middle" letter-spacing="-0.15" fill="#0a0a0a" stroke="#0a0a0a" stroke-width="0.3">Absorbance, 500 nm</text>
<text transform="translate(156.40,356.10) scale(1,1)" font-size="10.2" font-weight="bold" font-style="normal" text-anchor="middle" fill="#0a0a0a" stroke="#0a0a0a" stroke-width="0.3" letter-spacing="-0.3">Fraction</text>
<text transform="translate(413.90,356.10) scale(1,1)" font-size="10.2" font-weight="bold" font-style="normal" text-anchor="middle" fill="#0a0a0a" stroke="#0a0a0a" stroke-width="0.3" letter-spacing="-0.3">Fraction</text>
<line x1="68.70" y1="388.00" x2="68.70" y2="633.80" stroke="#666" stroke-width="1.15" />
<line x1="64.80" y1="630.40" x2="510.80" y2="630.40" stroke="#333" stroke-width="1.1" />
<line x1="68.80" y1="388.00" x2="73.40" y2="388.00" stroke="#3a3a3a" stroke-width="1" />
<text transform="translate(64.60,392.20) scale(1,1)" font-size="12.6" font-weight="bold" font-style="normal" text-anchor="end" fill="#0a0a0a" stroke="#0a0a0a" stroke-width="0.3" >450</text>
<line x1="68.80" y1="468.80" x2="73.40" y2="468.80" stroke="#3a3a3a" stroke-width="1" />
<text transform="translate(64.60,473.00) scale(1,1)" font-size="12.6" font-weight="bold" font-style="normal" text-anchor="end" fill="#0a0a0a" stroke="#0a0a0a" stroke-width="0.3" >300</text>
<line x1="68.80" y1="550.00" x2="73.40" y2="550.00" stroke="#3a3a3a" stroke-width="1" />
<text transform="translate(64.60,554.20) scale(1,1)" font-size="12.6" font-weight="bold" font-style="normal" text-anchor="end" fill="#0a0a0a" stroke="#0a0a0a" stroke-width="0.3" >150</text>
<line x1="157.70" y1="630.40" x2="157.85" y2="625.60" stroke="#333" stroke-width="1.0" />
<line x1="246.30" y1="630.40" x2="246.45" y2="625.60" stroke="#333" stroke-width="1.0" />
<line x1="334.90" y1="630.40" x2="335.05" y2="625.60" stroke="#333" stroke-width="1.0" />
<line x1="423.50" y1="630.40" x2="423.65" y2="625.60" stroke="#333" stroke-width="1.0" />
<line x1="510.30" y1="630.00" x2="510.30" y2="633.60" stroke="#3a3a3a" stroke-width="0.9" />
<text transform="translate(24.80,504.60) rotate(-90)" font-size="12.8" font-weight="bold" text-anchor="middle" letter-spacing="0" fill="#0a0a0a" stroke="#0a0a0a" stroke-width="0.3">Plasma concentration (mg/dL)</text>
<defs><pattern id="hs" x="0" y="0" width="4" height="2.95" patternUnits="userSpaceOnUse"><rect x="0" y="0" width="4" height="2.95" fill="#fff"/><rect x="0" y="0" width="4" height="1.0" fill="#3c3c3c"/></pattern></defs>
<rect x="81.25" y="594.30" width="16.25" height="35.70" fill="#0c0c0c"/>
<line x1="89.38" y1="594.30" x2="89.38" y2="593.50" stroke="#111" stroke-width="1.8" />
<rect x="86.38" y="592.70" width="6.0" height="1.7" fill="#111"/>
<rect x="97.50" y="599.00" width="15.80" height="31.00" fill="#b4b4b4" stroke="#555" stroke-width="1"/>
<line x1="105.40" y1="598.50" x2="105.40" y2="596.30" stroke="#111" stroke-width="1.8" />
<rect x="102.40" y="595.50" width="6.0" height="1.7" fill="#111"/>
<rect x="113.30" y="443.10" width="16.00" height="186.90" fill="#fff" stroke="#2e2e2e" stroke-width="1.05"/>
<line x1="121.30" y1="442.60" x2="121.30" y2="438.60" stroke="#111" stroke-width="1.8" />
<rect x="118.30" y="437.80" width="6.0" height="1.7" fill="#111"/>
<rect x="129.30" y="428.10" width="16.20" height="201.90" fill="url(#hs)" stroke="#2e2e2e" stroke-width="1.05"/>
<rect x="129.30" y="427.60" width="16.20" height="1.6" fill="#444"/>
<line x1="137.40" y1="427.60" x2="137.40" y2="416.80" stroke="#111" stroke-width="1.8" />
<rect x="134.40" y="416.00" width="6.0" height="1.7" fill="#111"/>
<text transform="translate(113.30,654.40) scale(1,1)" font-size="12.6" font-weight="bold" font-style="normal" text-anchor="middle" fill="#0a0a0a" stroke="#0a0a0a" stroke-width="0.3" >Total-C</text>
<rect x="201.40" y="614.20" width="15.70" height="15.80" fill="#fff" stroke="#2e2e2e" stroke-width="1.05"/>
<line x1="209.25" y1="613.70" x2="209.25" y2="612.40" stroke="#111" stroke-width="1.8" />
<rect x="206.25" y="611.60" width="6.0" height="1.7" fill="#111"/>
<rect x="217.10" y="614.60" width="15.90" height="15.40" fill="url(#hs)" stroke="#2e2e2e" stroke-width="1.05"/>
<rect x="217.10" y="614.10" width="15.90" height="1.6" fill="#444"/>
<line x1="225.05" y1="614.10" x2="225.05" y2="611.20" stroke="#111" stroke-width="1.8" />
<rect x="222.05" y="610.40" width="6.0" height="1.7" fill="#111"/>
<text transform="translate(201.70,654.40) scale(1,1)" font-size="12.6" font-weight="bold" font-style="normal" text-anchor="middle" fill="#0a0a0a" stroke="#0a0a0a" stroke-width="0.3" >VLDL-C</text>
<rect x="290.60" y="486.30" width="15.10" height="143.70" fill="#fff" stroke="#2e2e2e" stroke-width="1.05"/>
<line x1="298.15" y1="485.80" x2="298.15" y2="482.30" stroke="#111" stroke-width="1.8" />
<rect x="295.15" y="481.50" width="6.0" height="1.7" fill="#111"/>
<rect x="305.70" y="476.30" width="16.30" height="153.70" fill="url(#hs)" stroke="#2e2e2e" stroke-width="1.05"/>
<rect x="305.70" y="475.80" width="16.30" height="1.6" fill="#444"/>
<line x1="313.85" y1="475.80" x2="313.85" y2="464.80" stroke="#111" stroke-width="1.8" />
<rect x="310.85" y="464.00" width="6.0" height="1.7" fill="#111"/>
<text transform="translate(290.40,654.40) scale(1,1)" font-size="12.6" font-weight="bold" font-style="normal" text-anchor="middle" fill="#0a0a0a" stroke="#0a0a0a" stroke-width="0.3" >LDL-C</text>
<rect x="346.00" y="598.10" width="16.90" height="31.90" fill="#0c0c0c"/>
<line x1="354.45" y1="598.10" x2="354.45" y2="596.30" stroke="#111" stroke-width="1.8" />
<rect x="351.45" y="595.50" width="6.0" height="1.7" fill="#111"/>
<rect x="362.90" y="600.10" width="15.10" height="29.90" fill="#b4b4b4" stroke="#555" stroke-width="1"/>
<rect x="367.45" y="598.30" width="6.0" height="1.7" fill="#111"/>
<rect x="378.00" y="606.40" width="16.20" height="23.60" fill="#fff" stroke="#2e2e2e" stroke-width="1.05"/>
<line x1="386.10" y1="605.90" x2="386.10" y2="599.30" stroke="#111" stroke-width="1.8" />
<rect x="383.10" y="598.50" width="6.0" height="1.7" fill="#111"/>
<rect x="394.20" y="600.80" width="16.20" height="29.20" fill="url(#hs)" stroke="#2e2e2e" stroke-width="1.05"/>
<rect x="394.20" y="600.30" width="16.20" height="1.6" fill="#444"/>
<line x1="402.30" y1="600.30" x2="402.30" y2="594.00" stroke="#111" stroke-width="1.8" />
<rect x="399.30" y="593.20" width="6.0" height="1.7" fill="#111"/>
<text transform="translate(377.70,654.40) scale(1,1)" font-size="12.6" font-weight="bold" font-style="normal" text-anchor="middle" fill="#0a0a0a" stroke="#0a0a0a" stroke-width="0.3" >HDL-C</text>
<rect x="434.10" y="597.30" width="16.80" height="32.70" fill="#0c0c0c"/>
<line x1="442.50" y1="597.30" x2="442.50" y2="594.70" stroke="#111" stroke-width="1.8" />
<rect x="439.50" y="593.90" width="6.0" height="1.7" fill="#111"/>
<rect x="450.90" y="600.10" width="15.50" height="29.90" fill="#b4b4b4" stroke="#555" stroke-width="1"/>
<line x1="458.65" y1="599.60" x2="458.65" y2="595.70" stroke="#111" stroke-width="1.8" />
<rect x="455.65" y="594.90" width="6.0" height="1.7" fill="#111"/>
<rect x="466.40" y="548.90" width="15.90" height="81.10" fill="#fff" stroke="#2e2e2e" stroke-width="1.05"/>
<line x1="474.35" y1="548.40" x2="474.35" y2="546.60" stroke="#111" stroke-width="1.8" />
<rect x="471.35" y="545.80" width="6.0" height="1.7" fill="#111"/>
<rect x="482.30" y="545.70" width="16.50" height="84.30" fill="url(#hs)" stroke="#2e2e2e" stroke-width="1.05"/>
<rect x="482.30" y="545.20" width="16.50" height="1.6" fill="#444"/>
<line x1="490.55" y1="545.20" x2="490.55" y2="539.50" stroke="#111" stroke-width="1.8" />
<rect x="487.55" y="538.70" width="6.0" height="1.7" fill="#111"/>
<text transform="translate(465.50,654.40) scale(1,1)" font-size="12.6" font-weight="bold" font-style="normal" text-anchor="middle" fill="#0a0a0a" stroke="#0a0a0a" stroke-width="0.3" >TG</text>
<rect x="174.2" y="628.9" width="5.2" height="1.2" fill="#222"/>
<rect x="190.7" y="628.9" width="6.0" height="1.2" fill="#222"/>
<rect x="257.0" y="627.9" width="17.4" height="2.1" fill="#111"/>
<rect x="278.6" y="628.6" width="10.2" height="1.4" fill="#222"/>
<rect x="180.4" y="424.2" width="8.3" height="7.8" fill="#0c0c0c"/>
<rect x="180.9" y="443.4" width="7.4" height="7.2" fill="#b0b0b0" stroke="#666" stroke-width="1"/>
<rect x="180.9" y="462.5" width="7.4" height="7.2" fill="#fff" stroke="#444" stroke-width="1"/>
<rect x="180.9" y="481.5" width="7.4" height="7.6" fill="#fff" stroke="#444" stroke-width="1"/>
<line x1="180.90" y1="484.30" x2="188.30" y2="484.30" stroke="#555" stroke-width="0.9" />
<line x1="180.90" y1="486.90" x2="188.30" y2="486.90" stroke="#555" stroke-width="0.9" />
<text transform="translate(193.60,432.30) scale(1,1)" font-size="13.5" font-weight="bold" font-style="italic" text-anchor="start" fill="#0a0a0a" stroke="#0a0a0a" stroke-width="0.3" >WT</text>
<text transform="translate(193.50,451.60) scale(1,1)" font-size="12.8" font-weight="bold" font-style="italic" text-anchor="start" fill="#0a0a0a" stroke="#0a0a0a" stroke-width="0.3" >FG<tspan dy="-4.7" font-size="8.6" dx="1.1" letter-spacing="0.3">-/-</tspan></text>
<text transform="translate(193.40,470.40) scale(1,1)" font-size="12.9" font-weight="bold" font-style="italic" text-anchor="start" fill="#0a0a0a" stroke="#0a0a0a" stroke-width="0.3" >L<tspan dy="-4.7" font-size="8.6" dx="1.1" letter-spacing="0.3">-/-</tspan><tspan dy="4.7" dx="-0.3" letter-spacing="0">/A</tspan><tspan dy="-4.7" font-size="8.6" dx="1.1" letter-spacing="0.3">-/-</tspan></text>
<text transform="translate(193.40,489.50) scale(1,1)" font-size="12.9" font-weight="bold" font-style="italic" text-anchor="start" fill="#0a0a0a" stroke="#0a0a0a" stroke-width="0.3" >L<tspan dy="-4.7" font-size="8.6" dx="1.1" letter-spacing="0.3">-/-</tspan><tspan dy="4.7" dx="-0.3" letter-spacing="0">/A</tspan><tspan dy="-4.7" font-size="8.6" dx="1.1" letter-spacing="0.3">-/-</tspan><tspan dy="4.7" dx="-0.3" letter-spacing="0">/FG</tspan><tspan dy="-4.7" font-size="8.6" dx="1.1" letter-spacing="0.3">-/-</tspan></text>
</g>
</svg>
</body></html>
